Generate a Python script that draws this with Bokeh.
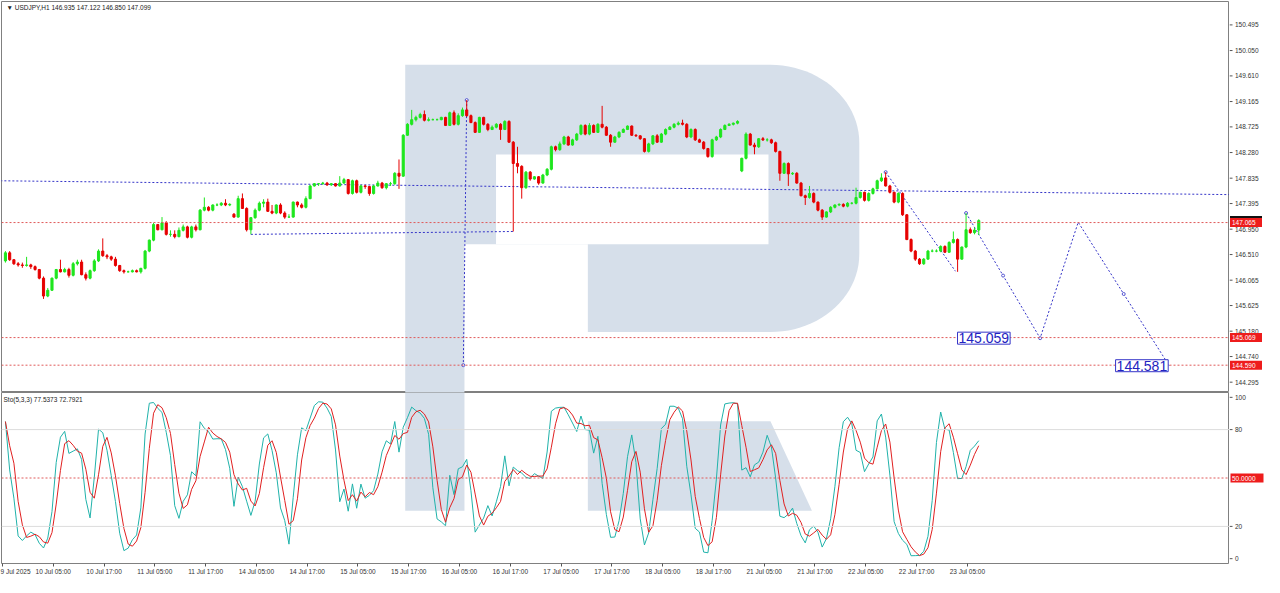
import numpy as np
from bokeh.plotting import figure
from bokeh.layouts import column, row
from bokeh.models import Range1d, FixedTicker, Span, Label, ColumnDataSource
from bokeh.core.properties import value
from bokeh.embed import file_html
from bokeh.resources import INLINE

# ---------------- data ----------------
header_text = "\u25BC USDJPY,H1  146.935 147.122 146.850 147.099"
sto_text = "Sto(5,3,3) 77.5373 72.7921"

opens = [
    146.40, 146.54, 146.42, 146.35, 146.33, 146.32, 146.33, 146.30, 146.25, 146.10,
    145.79, 145.89, 146.10, 146.25, 146.21, 146.25, 146.15, 146.35, 146.38, 146.16,
    146.10, 146.23, 146.40, 146.57, 146.49, 146.47, 146.43, 146.32, 146.23, 146.21,
    146.21, 146.23, 146.21, 146.27, 146.57, 146.76, 147.03, 146.94, 147.06, 146.86,
    146.86, 146.82, 146.93, 146.99, 146.81, 146.99, 146.94, 147.28, 147.33, 147.28,
    147.37, 147.37, 147.40, 147.37, 147.21, 147.16, 147.48, 147.31, 146.94, 147.15,
    147.28, 147.40, 147.42, 147.26, 147.23, 147.37, 147.23, 147.16, 147.16, 147.42,
    147.37, 147.33, 147.48, 147.70, 147.74, 147.74, 147.75, 147.72, 147.74, 147.70,
    147.75, 147.81, 147.57, 147.79, 147.59, 147.70, 147.69, 147.57, 147.70, 147.75,
    147.67, 147.74, 147.74, 147.92, 147.87, 148.58, 148.77, 148.85, 148.89, 148.94,
    148.84, 148.85, 148.85, 148.85, 148.89, 148.75, 148.97, 148.77, 148.92, 149.02,
    148.92, 148.80, 148.63, 148.89, 148.77, 148.68, 148.72, 148.77, 148.68, 148.82,
    148.46, 148.09, 148.04, 147.67, 147.94, 147.82, 147.86, 147.75, 147.89, 147.99,
    148.38, 148.33, 148.43, 148.55, 148.41, 148.50, 148.60, 148.75, 148.60, 148.75,
    148.63, 148.77, 148.72, 148.58, 148.46, 148.55, 148.63, 148.68, 148.74, 148.58,
    148.57, 148.52, 148.30, 148.43, 148.57, 148.46, 148.60, 148.68, 148.72, 148.77,
    148.79, 148.77, 148.55, 148.68, 148.50, 148.46, 148.35, 148.21, 148.50, 148.55,
    148.68, 148.75, 148.77, 148.79, 147.96, 148.18, 148.60, 148.41, 148.38, 148.52,
    148.50, 148.50, 148.45, 148.30, 147.92, 148.09, 147.91, 147.92, 147.75, 147.53,
    147.50, 147.57, 147.42, 147.28, 147.16, 147.25, 147.33, 147.37, 147.38, 147.35,
    147.40, 147.40, 147.50, 147.59, 147.45, 147.57, 147.65, 147.79, 147.84, 147.70,
    147.59, 147.42, 147.57, 147.20, 146.77, 146.57, 146.43, 146.35, 146.43, 146.57,
    146.57, 146.57, 146.65, 146.55, 146.72, 146.77, 146.43, 146.64, 146.94, 146.89,
    146.935,
]
highs = [
    146.57, 146.57, 146.43, 146.38, 146.37, 146.47, 146.35, 146.32, 146.26, 146.13,
    145.93, 146.11, 146.26, 146.42, 146.28, 146.28, 146.38, 146.42, 146.42, 146.20,
    146.25, 146.43, 146.60, 146.79, 146.52, 146.49, 146.47, 146.33, 146.25, 146.23,
    146.25, 146.25, 146.28, 146.59, 146.77, 147.06, 147.04, 147.16, 147.09, 146.93,
    146.93, 146.98, 147.03, 147.01, 147.01, 147.03, 147.30, 147.50, 147.35, 147.38,
    147.40, 147.42, 147.47, 147.40, 147.23, 147.53, 147.57, 147.33, 147.16, 147.31,
    147.43, 147.47, 147.48, 147.37, 147.38, 147.40, 147.26, 147.21, 147.43, 147.43,
    147.40, 147.52, 147.72, 147.75, 147.75, 147.77, 147.77, 147.75, 147.75, 147.87,
    147.84, 147.82, 147.81, 147.81, 147.72, 147.72, 147.70, 147.72, 147.79, 147.77,
    147.75, 147.77, 147.94, 148.16, 148.60, 148.79, 149.02, 148.92, 148.97, 149.01,
    148.89, 148.87, 148.87, 148.90, 148.90, 148.99, 149.01, 148.96, 149.06, 149.19,
    148.94, 148.82, 148.90, 148.90, 148.79, 148.75, 148.79, 148.79, 148.84, 148.84,
    148.48, 148.38, 148.06, 147.96, 147.96, 147.87, 147.87, 147.91, 148.01, 148.40,
    148.40, 148.47, 148.57, 148.57, 148.52, 148.62, 148.77, 148.77, 148.79, 148.77,
    148.79, 149.09, 148.74, 148.60, 148.57, 148.65, 148.70, 148.75, 148.75, 148.60,
    148.58, 148.53, 148.45, 148.58, 148.60, 148.62, 148.70, 148.74, 148.79, 148.82,
    148.85, 148.79, 148.70, 148.70, 148.52, 148.48, 148.36, 148.52, 148.57, 148.70,
    148.77, 148.79, 148.80, 148.84, 148.19, 148.63, 148.62, 148.45, 148.53, 148.55,
    148.53, 148.52, 148.47, 148.31, 148.11, 148.11, 147.94, 147.94, 147.77, 147.55,
    147.70, 147.59, 147.43, 147.30, 147.26, 147.35, 147.38, 147.40, 147.40, 147.42,
    147.42, 147.67, 147.60, 147.60, 147.59, 147.67, 147.81, 147.92, 147.94, 147.72,
    147.60, 147.59, 147.59, 147.21, 146.79, 146.59, 146.45, 146.45, 146.59, 146.60,
    146.60, 146.67, 146.67, 146.74, 146.91, 146.79, 146.65, 147.23, 146.98, 146.98,
    147.122,
]
lows = [
    146.37, 146.40, 146.33, 146.30, 146.28, 146.30, 146.26, 146.23, 146.08, 145.74,
    145.77, 145.88, 146.08, 146.20, 146.20, 146.11, 146.13, 146.32, 146.15, 146.06,
    146.08, 146.21, 146.38, 146.47, 146.43, 146.40, 146.30, 146.21, 146.18, 146.20,
    146.20, 146.20, 146.18, 146.25, 146.55, 146.74, 146.93, 146.93, 146.84, 146.82,
    146.79, 146.81, 146.91, 146.79, 146.79, 146.91, 146.93, 147.26, 147.26, 147.26,
    147.35, 147.35, 147.35, 147.35, 147.15, 147.15, 147.30, 146.91, 146.86, 147.13,
    147.26, 147.33, 147.25, 147.21, 147.21, 147.21, 147.13, 147.15, 147.15, 147.33,
    147.31, 147.31, 147.47, 147.69, 147.70, 147.72, 147.70, 147.70, 147.69, 147.69,
    147.74, 147.55, 147.55, 147.57, 147.57, 147.65, 147.53, 147.55, 147.69, 147.65,
    147.64, 147.70, 147.72, 147.65, 147.86, 148.57, 148.75, 148.82, 148.87, 148.82,
    148.82, 148.84, 148.84, 148.84, 148.74, 148.74, 148.75, 148.75, 148.90, 148.90,
    148.79, 148.62, 148.62, 148.75, 148.65, 148.67, 148.70, 148.50, 148.67, 148.45,
    146.91, 147.92, 147.48, 147.65, 147.79, 147.81, 147.72, 147.74, 147.87, 147.97,
    148.30, 148.31, 148.41, 148.40, 148.40, 148.48, 148.58, 148.58, 148.58, 148.62,
    148.62, 148.70, 148.57, 148.38, 148.45, 148.53, 148.62, 148.67, 148.57, 148.55,
    148.50, 148.28, 148.28, 148.41, 148.45, 148.45, 148.58, 148.67, 148.70, 148.75,
    148.75, 148.53, 148.53, 148.48, 148.45, 148.33, 148.19, 148.19, 148.48, 148.53,
    148.67, 148.74, 148.75, 148.77, 147.94, 148.16, 148.40, 148.25, 148.36, 148.48,
    148.47, 148.43, 148.28, 147.79, 147.91, 147.70, 147.89, 147.74, 147.52, 147.37,
    147.48, 147.40, 147.26, 147.11, 147.15, 147.23, 147.31, 147.35, 147.33, 147.33,
    147.38, 147.38, 147.48, 147.43, 147.43, 147.55, 147.64, 147.77, 147.69, 147.57,
    147.40, 147.40, 147.18, 146.76, 146.55, 146.40, 146.33, 146.33, 146.42, 146.55,
    146.55, 146.55, 146.54, 146.54, 146.70, 146.21, 146.42, 146.62, 146.87, 146.86,
    146.850,
]
closes = [
    146.54, 146.42, 146.35, 146.33, 146.32, 146.33, 146.30, 146.25, 146.10, 145.79,
    145.89, 146.10, 146.25, 146.21, 146.25, 146.15, 146.35, 146.38, 146.16, 146.10,
    146.23, 146.40, 146.57, 146.49, 146.47, 146.43, 146.32, 146.23, 146.21, 146.21,
    146.23, 146.21, 146.27, 146.57, 146.76, 147.03, 146.94, 147.06, 146.86, 146.86,
    146.82, 146.93, 146.99, 146.81, 146.99, 146.94, 147.28, 147.33, 147.28, 147.37,
    147.37, 147.40, 147.37, 147.38, 147.16, 147.48, 147.31, 146.94, 147.15, 147.28,
    147.40, 147.42, 147.26, 147.23, 147.37, 147.23, 147.16, 147.16, 147.42, 147.37,
    147.33, 147.48, 147.70, 147.74, 147.74, 147.75, 147.72, 147.74, 147.70, 147.75,
    147.81, 147.57, 147.79, 147.59, 147.70, 147.69, 147.57, 147.70, 147.75, 147.67,
    147.74, 147.74, 147.92, 147.87, 148.58, 148.77, 148.85, 148.89, 148.94, 148.84,
    148.85, 148.85, 148.85, 148.89, 148.75, 148.97, 148.77, 148.92, 149.02, 148.92,
    148.80, 148.63, 148.89, 148.77, 148.68, 148.72, 148.77, 148.68, 148.82, 148.46,
    148.09, 148.04, 147.67, 147.94, 147.82, 147.86, 147.75, 147.89, 147.99, 148.38,
    148.33, 148.43, 148.55, 148.41, 148.50, 148.60, 148.75, 148.60, 148.75, 148.63,
    148.77, 148.72, 148.58, 148.46, 148.55, 148.63, 148.68, 148.74, 148.58, 148.57,
    148.52, 148.30, 148.43, 148.57, 148.46, 148.60, 148.68, 148.72, 148.77, 148.79,
    148.77, 148.55, 148.68, 148.50, 148.46, 148.35, 148.21, 148.50, 148.55, 148.68,
    148.75, 148.77, 148.79, 148.82, 148.18, 148.60, 148.41, 148.38, 148.52, 148.50,
    148.50, 148.45, 148.30, 147.92, 148.09, 147.91, 147.92, 147.75, 147.53, 147.50,
    147.57, 147.42, 147.28, 147.16, 147.25, 147.33, 147.37, 147.38, 147.35, 147.40,
    147.40, 147.50, 147.59, 147.45, 147.57, 147.65, 147.79, 147.84, 147.70, 147.59,
    147.42, 147.57, 147.20, 146.77, 146.57, 146.43, 146.35, 146.43, 146.57, 146.57,
    146.57, 146.65, 146.55, 146.72, 146.77, 146.43, 146.64, 146.94, 146.89, 146.935,
    147.099,
]

time_labels = ["9 Jul 2025", "10 Jul 05:00", "10 Jul 17:00", "11 Jul 05:00", "11 Jul 17:00",
               "14 Jul 05:00", "14 Jul 17:00", "15 Jul 05:00", "15 Jul 17:00", "16 Jul 05:00",
               "16 Jul 17:00", "17 Jul 05:00", "17 Jul 17:00", "18 Jul 05:00", "18 Jul 17:00",
               "21 Jul 05:00", "21 Jul 17:00", "22 Jul 05:00", "22 Jul 17:00", "23 Jul 05:00"]
bars_per_label = 12

price_ticks = [150.495, 150.050, 149.610, 149.165, 148.725, 148.280, 147.835, 147.395,
               146.950, 146.510, 146.065, 145.625, 145.180, 144.740, 144.295]
price_tick_labels = ["150.495", "150.050", "149.610", "149.165", "148.725", "148.280", "147.835",
                     "147.395", "146.950", "146.510", "146.065", "145.625", "145.180", "144.740",
                     "144.295"]
sto_ticks = [0, 20, 80, 100]
sto_tick_labels = ["0", "20", "80", "100"]
sto_levels = [20, 80]
sto_mid = 50
sto_mid_label = "50.0000"

current_price = 147.099
current_label = "147.099"
level_prices = [147.065, 145.069, 144.590]
level_labels = ["147.065", "145.069", "144.590"]

# hand-drawn objects on the chart (bar index, price)
trend_bars, trend_prices = [-1.2, 289.3], [147.79, 147.55]
support_bars, support_prices = [58, 120], [146.86, 146.91]
vert_bars, vert_prices = [109, 108.2], [149.19, 144.59]
fall_bars, fall_prices = [208, 224.5], [147.94, 146.22]
zig_bars, zig_prices = [227, 244.5, 253.5, 275], [147.23, 145.059, 147.07, 144.581]
target_texts = ["145.059", "144.581"]

# ---------------- derived indicator: Stochastic(5,3,3) ----------------
o = np.array(opens); h = np.array(highs); l = np.array(lows); c = np.array(closes)
n = len(c)
bars = np.arange(n)
kp, slow, dp = 5, 3, 3
ll = np.array([l[max(0, i - kp + 1):i + 1].min() for i in range(n)])
hh = np.array([h[max(0, i - kp + 1):i + 1].max() for i in range(n)])
num = c - ll
den = hh - ll
K = np.array([100 * num[max(0, i - slow + 1):i + 1].sum() / den[max(0, i - slow + 1):i + 1].sum() for i in range(n)])
D = np.array([K[max(0, i - dp + 1):i + 1].mean() for i in range(n)])

# ---------------- styling / layout ----------------
W_MAIN = 1229
W_AX = 35
H1, H2 = 392, 185
FONT = "Liberation Sans"
FS = "6.5px"
GREEN = "#1ee61e"
RED = "#e60000"
BLUE = "#3434c8"
LVL_RED = "#e05a5a"
BOX_RED = "#ee1c1c"
LOGO = "#d6dfea"
FRAME = "#808080"
TXT = "#333333"
X0, X1 = -0.93, 289.25
PY0, PY1 = 144.116, 150.901
SY0, SY1 = -3.0, 103.0

# reference-pixel helpers for the watermark only
def bx(px):
    return (px - 5) / 4.287

def py(pyy):
    return 150.918 - 0.01692 * pyy

def sy(pyy):
    return SY1 - (pyy - 402) * (SY1 - SY0) / 178.0

def base_fig(**kw):
    f = figure(output_backend="svg", toolbar_location=None, x_axis_location=None,
               y_axis_location=None, **kw)
    f.grid.visible = False
    f.background_fill_color = "white"
    f.border_fill_color = "white"
    return f

x_range = Range1d(X0, X1)

# ---------------- price pane ----------------
p1 = base_fig(width=W_MAIN, height=H1, x_range=x_range, y_range=Range1d(PY0, PY1),
              min_border_left=1, min_border_right=0, min_border_top=1, min_border_bottom=0)
p1.outline_line_color = FRAME

# watermark logo (price pane)
t = np.linspace(0, np.pi / 2, 24)
lx = [410, 780] + list(780 + 90 * np.sin(t)) + [870] + list(780 + 90 * np.cos(t)) + [410]
ly = [66, 66] + list(146 - 80 * np.cos(t)) + [260] + list(260 + 80 * np.sin(t)) + [340]
p1.patch([bx(v) for v in lx], [py(v) for v in ly], fill_color=LOGO, line_color=None, level="underlay")
p1.quad(left=[bx(502), bx(470)], right=[bx(778), bx(595)], top=[py(158), py(250)],
        bottom=[py(250), py(341)], fill_color="white", line_color=None, level="underlay")
p1.quad(left=[bx(410)], right=[bx(470)], top=[py(339)], bottom=[py(404)],
        fill_color=LOGO, line_color=None, level="underlay")

for v in level_prices:
    p1.add_layout(Span(location=v, dimension="width", line_color=LVL_RED, line_dash="2 2", line_width=1))

for xs_, ys_ in [(trend_bars, trend_prices), (support_bars, support_prices), (vert_bars, vert_prices),
                 (fall_bars, fall_prices), (zig_bars, zig_prices)]:
    p1.line(xs_, ys_, line_color=BLUE, line_dash="2 2", line_width=1)
mk_x = [fall_bars[0], zig_bars[0], zig_bars[1], vert_bars[0], vert_bars[1],
        (zig_bars[0] + zig_bars[1]) / 2, (zig_bars[2] + zig_bars[3]) / 2]
mk_y = [fall_prices[0], zig_prices[0], zig_prices[1], vert_prices[0], vert_prices[1],
        (zig_prices[0] + zig_prices[1]) / 2, (zig_prices[2] + zig_prices[3]) / 2]
p1.scatter(mk_x, mk_y, size=3, marker="circle", fill_color="white", line_color=BLUE, line_width=0.8)

up = c >= o
for mask, col in [(up, GREEN), (~up, RED)]:
    src = ColumnDataSource(dict(x=bars[mask], hi=h[mask], lo=l[mask],
                                top=np.maximum(o, c)[mask], bot=np.minimum(o, c)[mask]))
    p1.segment(x0="x", y0="lo", x1="x", y1="hi", line_color=col, line_width=1, source=src)
    p1.vbar(x="x", width=0.5, top="top", bottom="bot", fill_color=col, line_color=col,
            line_width=1, source=src)

p1.add_layout(Label(x=zig_bars[1], y=zig_prices[1], x_offset=-30, text=target_texts[0],
                    text_align="right", text_baseline="middle", text_font=FONT,
                    text_font_size="14px", text_color="#2323c0", background_fill_color="white",
                    border_line_color=BLUE, border_line_width=1, padding=1))
p1.add_layout(Label(x=zig_bars[3], y=zig_prices[3], x_offset=-1, text=target_texts[1],
                    text_align="right", text_baseline="middle", text_font=FONT,
                    text_font_size="14px", text_color="#2323c0", background_fill_color="white",
                    border_line_color=BLUE, border_line_width=1, padding=1))
p1.add_layout(Label(x=X0, y=PY1, x_offset=5, y_offset=-2, text=header_text, text_font=FONT,
                    text_font_size=FS, text_color="#222222", text_baseline="top"))

# ---------------- price scale (right) ----------------
a1 = base_fig(width=W_AX, height=H1, x_range=Range1d(0, W_AX), y_range=p1.y_range,
              min_border_left=0, min_border_right=0, min_border_top=1, min_border_bottom=0)
a1.outline_line_color = None
a1.segment(x0=[0] * len(price_ticks), x1=[3] * len(price_ticks), y0=price_ticks, y1=price_ticks,
           line_color="#555555", line_width=1)
a1.text(x=[5.5] * len(price_ticks), y=price_ticks, text=price_tick_labels, text_font=value(FONT),
        text_font_size=value(FS), text_color=TXT, text_baseline="middle", text_align="left")
a1.rect(x=[16.5], y=[current_price], width=32, height=9, height_units="screen",
        fill_color="#111111", line_color=None)
a1.text(x=[2.5], y=[current_price], text=[current_label], text_font=value(FONT),
        text_font_size=value(FS), text_color="white", text_baseline="middle", text_align="left")
a1.rect(x=[16.5] * len(level_prices), y=level_prices, width=32, height=9, height_units="screen",
        fill_color=BOX_RED, line_color=None)
a1.text(x=[2.5] * len(level_prices), y=level_prices, text=level_labels, text_font=value(FONT),
        text_font_size=value(FS), text_color="white", text_baseline="middle", text_align="left")

# ---------------- stochastic pane ----------------
p2 = base_fig(width=W_MAIN, height=H2, x_range=x_range, y_range=Range1d(SY0, SY1),
              min_border_left=1, min_border_right=0, min_border_top=0, min_border_bottom=14)
p2.outline_line_color = FRAME
p2.xaxis.visible = True

p2.quad(left=[bx(410)], right=[bx(470)], top=[sy(400)], bottom=[sy(525)],
        fill_color=LOGO, line_color=None, level="underlay")
p2.patch([bx(595), bx(780), bx(822), bx(595)], [sy(432), sy(432), sy(525), sy(525)],
         fill_color=LOGO, line_color=None, level="underlay")

for v in sto_levels:
    p2.add_layout(Span(location=v, dimension="width", line_color="#dcdcdc", line_width=1))
p2.add_layout(Span(location=sto_mid, dimension="width", line_color=LVL_RED, line_dash="2 2", line_width=1))

p2.line(bars, K, line_color="#20b2aa", line_width=1)
p2.line(bars, D, line_color="#e02020", line_width=1)

p2.add_layout(Label(x=X0, y=SY1, x_offset=2, y_offset=-3, text=sto_text, text_font=FONT,
                    text_font_size=FS, text_color="#222222", text_baseline="top"))

from bokeh.models import LinearAxis
xa = LinearAxis()
p2.add_layout(xa, "below")
xticks = [bars_per_label * k - 0.7 for k in range(len(time_labels))]
xa.ticker = FixedTicker(ticks=xticks)
xa.major_label_overrides = {t_: s_ for t_, s_ in zip(xticks, time_labels)}
xa.major_label_text_align = "left"
xa.major_label_text_font = FONT
xa.major_label_text_font_size = FS
xa.major_label_text_color = TXT
xa.major_tick_out = 3
xa.major_tick_in = 0
xa.minor_tick_out = 0
xa.minor_tick_in = 0
xa.axis_line_color = None
xa.major_tick_line_color = "#555555"
xa.major_label_standoff = 1

# ---------------- stochastic scale (right) ----------------
a2 = base_fig(width=W_AX, height=H2, x_range=Range1d(0, W_AX), y_range=p2.y_range,
              min_border_left=0, min_border_right=0, min_border_top=0, min_border_bottom=14)
a2.outline_line_color = None
a2.segment(x0=[0] * len(sto_ticks), x1=[3] * len(sto_ticks), y0=sto_ticks, y1=sto_ticks,
           line_color="#555555", line_width=1)
a2.text(x=[5.5] * len(sto_ticks), y=sto_ticks, text=sto_tick_labels, text_font=value(FONT),
        text_font_size=value(FS), text_color=TXT, text_baseline="middle", text_align="left")
a2.rect(x=[17.5], y=[sto_mid], width=33, height=9, height_units="screen",
        fill_color=BOX_RED, line_color=None)
a2.text(x=[2.5], y=[sto_mid], text=[sto_mid_label], text_font=value(FONT),
        text_font_size=value(FS), text_color="white", text_baseline="middle", text_align="left")

layout = row(column(p1, p2), column(a1, a2))
open("out.html", "w").write(file_html(layout, INLINE))
